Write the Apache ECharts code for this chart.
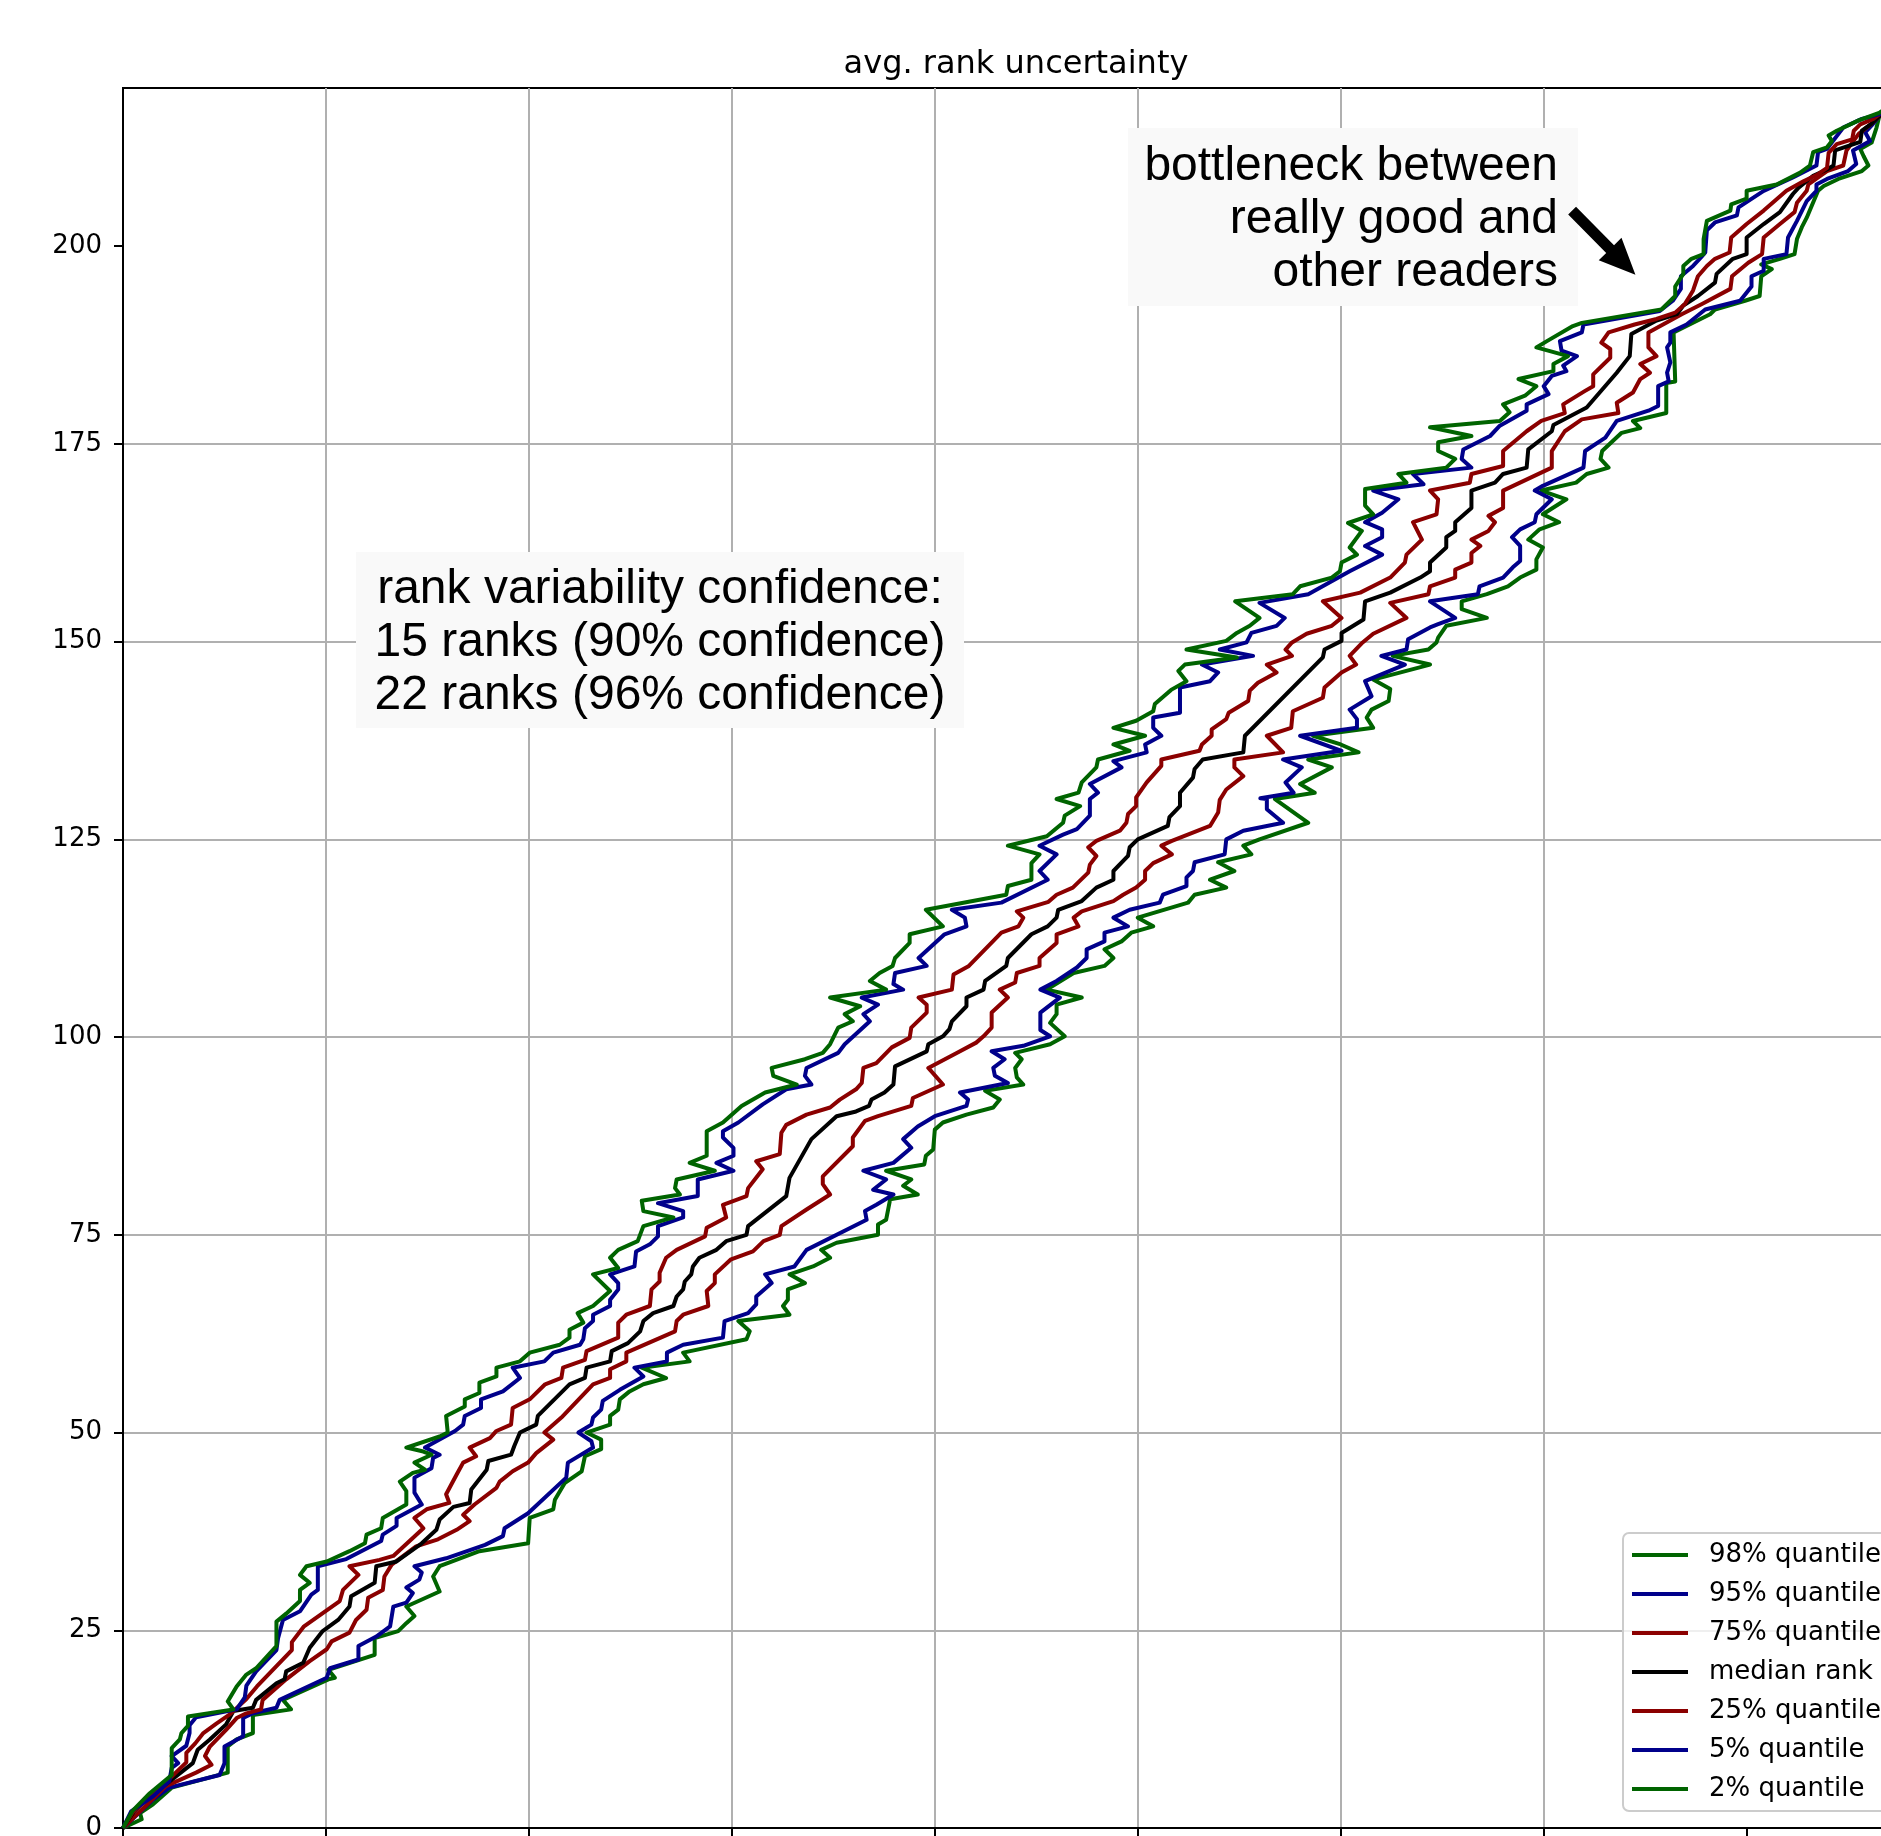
<!DOCTYPE html>
<html>
<head>
<meta charset="utf-8">
<title>avg. rank uncertainty</title>
<script src="https://cdn.jsdelivr.net/npm/echarts@6/dist/echarts.min.js"></script>
<style>
  html, body { margin: 0; padding: 0; background: #fff; }
  #main { width: 1881px; height: 1836px; }
</style>
</head>
<body>
<div id="main"></div>
<script>
// each point is [quantile of rank, reader index]
var q98 = [[0,0],[2.3,1.1],[2.1,1.9],[3.7,3.0],[6.0,5.1],[12.9,7.0],[12.9,10.3],[14.0,11.2],[16.0,12.0],[16.0,14.3],[20.7,15.0],[19.7,16.2],[25.3,18.8],[26.1,19.0],[25.3,20.0],[31.0,21.9],[31.0,24.0],[33.9,24.9],[34.9,25.9],[35.9,26.8],[34.9,28.0],[39.0,29.9],[38.2,31.8],[39.0,33.1],[43.9,35.0],[49.9,36.0],[50.1,39.2],[53.0,40.3],[53.2,41.5],[54.4,43.6],[56.5,45.1],[56.9,47.0],[58.9,47.9],[58.9,49.1],[57.1,50.0],[60.0,51.0],[60.0,52.1],[61.0,52.9],[61.2,54.2],[62.4,55.2],[64.1,56.1],[66.9,56.9],[63.9,58.2],[69.8,59.0],[69.0,60.1],[76.8,61.8],[77.2,62.8],[75.8,64.1],[82.1,64.9],[81.3,66.0],[81.9,66.8],[81.9,68.1],[84.0,68.9],[82.1,70.0],[85.0,71.0],[87.1,72.1],[86.0,73.1],[87.9,74.0],[93.0,75.0],[93.0,76.3],[94.0,76.9],[94.5,79.5],[97.9,80.1],[96.1,81.2],[97.1,82.0],[94.0,83.1],[98.7,83.9],[98.9,85.0],[99.8,85.8],[100.0,88.3],[101.0,89.2],[103.9,90.2],[107.2,91.1],[108.0,92.1],[106.2,93.2],[110.9,94.0],[110.1,94.9],[109.9,96.1],[110.7,97.2],[109.9,98.0],[114.2,99.1],[116.0,100.1],[114.2,101.8],[115.0,102.9],[115.0,104.1],[118.1,105.0],[113.8,106.0],[117.1,108.1],[120.9,109.0],[122.0,110.0],[120.9,111.1],[123.0,112.1],[124.2,113.2],[126.9,114.0],[125.0,115.1],[131.2,117.0],[132.0,118.0],[135.9,118.9],[133.9,119.9],[136.9,121.0],[134.9,122.1],[139.0,123.1],[138.0,124.2],[140.0,125.0],[146.0,127.1],[141.9,130.1],[146.8,130.9],[145.0,132.0],[148.9,134.1],[146.0,135.1],[152.2,136.0],[150.0,137.0],[146.6,138.1],[154.0,139.1],[153.2,140.4],[153.8,141.4],[155.9,142.5],[156.1,144.0],[154.0,145.2],[161.0,147.1],[156.4,148.2],[160.8,149.0],[161.8,149.9],[162.0,150.5],[163.0,152.0],[168.0,153.0],[164.9,154.1],[164.9,155.1],[168.0,156.0],[170.6,157.0],[172.1,158.1],[174.1,159.1],[174.1,160.4],[174.9,161.9],[173.1,162.9],[174.5,164.2],[176.9,165.1],[174.9,166.1],[177.8,168.0],[174.7,169.1],[179.0,170.1],[180.3,171.2],[183.0,172.0],[182.0,173.1],[182.2,174.1],[184.6,176.4],[186.9,177.0],[186.0,177.9],[190.1,178.9],[190.1,182.7],[191.2,182.9],[191.0,189.1],[191.8,189.5],[195.5,191.4],[196.1,192.0],[199.8,193.1],[201.6,193.7],[201.8,196.2],[203.1,197.1],[201.8,197.7],[204.1,198.4],[205.9,199.0],[206.2,200.9],[206.8,202.4],[207.4,203.6],[208.8,207.0],[209.5,207.6],[211.3,208.5],[214.2,209.5],[215.0,210.2],[214.4,211.4],[214.0,212.3],[215.4,213.1],[216.0,215.0],[216.4,216.7],[218,218]];

var q95 = [[0,0],[3.7,3.6],[5.7,5.1],[11.9,6.7],[12.5,8.2],[12.5,10.3],[14.8,11.6],[14.8,13.9],[16.0,14.5],[18.9,15.2],[19.3,16.2],[25.1,19.0],[25.5,20.2],[29.0,21.3],[29.0,23.0],[31.2,24.2],[32.9,25.5],[33.3,28.0],[34.9,28.5],[35.7,29.7],[34.9,30.4],[36.5,31.4],[36.8,32.3],[35.9,33.1],[39.8,34.1],[44.6,35.8],[46.8,36.9],[47.0,37.9],[49.9,39.8],[54.6,44.3],[54.8,46.2],[57.9,48.1],[57.7,48.9],[56.1,50.0],[57.7,51.0],[57.9,51.9],[58.9,52.9],[59.1,54.0],[61.2,55.4],[64.1,57.1],[63.0,58.2],[67.0,59.0],[67.0,60.1],[69.0,61.1],[73.9,62.0],[74.1,64.1],[77.0,65.1],[78.0,66.2],[78.0,67.2],[79.9,68.9],[79.1,70.0],[82.7,71.0],[84.2,73.1],[91.6,76.9],[91.4,78.0],[92.8,78.8],[94.9,80.1],[92.4,80.7],[94.0,82.0],[91.2,83.1],[94.9,84.1],[97.1,86.0],[96.1,87.1],[97.9,88.7],[100.0,90.0],[103.9,91.3],[104.1,92.1],[103.1,93.0],[109.0,94.2],[107.4,95.1],[107.2,96.1],[108.6,97.2],[107.0,98.2],[110.9,98.9],[114.2,100.1],[113.0,100.9],[113.0,103.1],[115.4,105.0],[113.0,106.0],[115.0,107.1],[117.5,108.8],[118.7,110.0],[118.7,111.1],[120.9,112.1],[120.9,113.2],[123.8,114.0],[122.0,115.1],[124.0,116.1],[127.7,117.0],[128.1,118.0],[131.0,119.1],[131.0,120.2],[131.8,121.0],[132.0,122.1],[135.7,123.1],[135.9,125.0],[138.0,126.1],[142.9,127.1],[140.9,128.8],[140.9,130.1],[140.1,130.2],[144.2,130.9],[143.2,132.2],[145.2,134.1],[142.9,135.1],[150.1,136.2],[145.0,138.1],[152.0,139.1],[152.0,140.2],[151.1,141.4],[153.8,143.1],[153.0,145.0],[157.9,147.1],[155.0,148.2],[158.1,149.0],[158.3,150.3],[161.0,151.8],[162.0,152.2],[164.1,153.0],[161.0,155.1],[166.9,156.0],[167.1,157.0],[170.0,158.1],[171.2,159.4],[172.1,160.2],[172.1,162.1],[171.1,163.2],[172.1,164.2],[173.9,165.1],[174.1,166.1],[176.0,168.0],[173.9,169.1],[174.9,169.7],[179.9,172.0],[180.1,174.1],[182.6,175.8],[184.0,177.9],[187.9,179.2],[189.1,179.8],[189.1,182.3],[190.4,182.9],[190.2,184.0],[190.6,185.3],[190.2,187.2],[190.6,187.8],[190.6,189.1],[192.6,190.1],[194.9,192.0],[199.2,193.1],[200.6,194.9],[200.6,196.2],[202.1,196.9],[202.1,198.4],[204.9,199.0],[205.1,201.1],[206.2,203.2],[207.4,205.7],[208.6,207.0],[208.6,207.8],[209.9,208.5],[212.5,209.5],[213.5,210.4],[213.1,212.1],[215.2,213.3],[214.6,214.4],[215.6,215.5],[216.4,216.5],[218,218]];

var q75 = [[0,0],[1.5,1.5],[5.3,5.3],[9.0,7.0],[10.9,8.0],[10.1,9.1],[10.7,10.3],[12.7,12.4],[14.0,13.9],[15.2,14.5],[17.0,15.0],[17.2,16.2],[20.1,18.8],[23.0,21.1],[25.1,22.6],[25.7,23.6],[27.9,24.7],[28.7,26.3],[30.0,27.6],[30.2,29.1],[32.0,30.1],[32.2,31.8],[33.1,33.3],[36.1,35.6],[38.8,36.5],[41.1,37.7],[42.7,38.8],[41.9,39.6],[43.3,40.9],[46.0,43.0],[46.4,43.8],[48.0,45.1],[49.9,46.2],[50.9,47.4],[53.0,49.1],[51.9,50.0],[54.0,51.9],[57.9,56.1],[60.0,56.9],[60.0,58.0],[62.0,59.0],[62.0,60.1],[68.0,62.8],[68.2,64.1],[69.0,64.9],[72.1,66.0],[71.9,67.9],[72.9,68.9],[72.9,70.0],[74.9,71.9],[77.6,72.9],[78.9,74.2],[80.9,75.0],[81.1,76.1],[84.2,78.2],[87.1,80.1],[86.2,81.4],[86.2,82.4],[89.9,86.2],[89.9,87.3],[91.4,89.4],[93.0,90.0],[97.1,91.3],[97.3,92.3],[101.0,94.0],[99.2,96.1],[102.7,98.0],[105.1,99.3],[106.0,100.1],[107.0,101.2],[107.0,103.1],[109.0,105.0],[108.0,106.0],[109.9,106.9],[110.1,108.1],[112.9,109.0],[112.9,110.0],[115.0,111.9],[115.0,113.0],[117.7,114.0],[117.1,115.1],[118.1,115.9],[122.0,117.2],[123.2,118.0],[124.8,118.9],[125.9,119.9],[125.9,121.0],[126.9,122.0],[129.2,123.1],[127.9,124.2],[129.2,124.8],[133.9,126.7],[134.9,128.4],[135.1,130.0],[135.9,131.3],[138.0,133.0],[136.9,134.1],[136.9,135.1],[142.9,136.0],[140.9,138.1],[143.9,139.1],[144.1,141.2],[147.8,142.9],[148.0,144.2],[150.1,146.1],[151.9,147.1],[151.1,148.2],[152.7,149.9],[154.0,151.0],[158.1,153.0],[156.1,154.9],[160.8,156.0],[161.0,157.0],[164.1,158.1],[164.1,159.1],[166.1,160.0],[166.1,161.2],[167.2,162.1],[166.1,162.9],[168.2,164.0],[169.0,165.1],[168.2,165.9],[170.0,166.9],[170.0,169.1],[176.0,172.0],[176.0,174.1],[177.6,176.6],[179.7,178.1],[184.2,178.9],[184.0,180.2],[186.0,181.5],[186.9,183.2],[188.1,184.0],[186.9,185.1],[188.9,186.1],[187.9,187.2],[187.9,189.1],[190.6,190.6],[192.0,191.4],[194.5,192.7],[198.0,194.6],[198.2,196.2],[200.2,197.9],[201.9,199.0],[202.1,201.1],[204.1,202.8],[205.9,204.3],[206.2,205.5],[207.4,207.0],[207.6,207.8],[209.9,209.5],[211.9,210.2],[212.3,212.1],[213.8,214.2],[215.4,215.5],[216.4,216.5],[218,218]];

var qMedian = [[0,0],[1.3,2.0],[3.2,4.0],[5.5,5.7],[8.6,8.2],[9.2,9.9],[10.7,11.2],[12.7,13.1],[13.6,14.8],[16.0,15.2],[16.4,16.2],[18.9,18.3],[19.9,18.8],[20.1,19.8],[22.2,20.9],[23.0,22.8],[24.6,24.9],[26.5,26.3],[27.9,28.0],[28.1,29.3],[31.0,31.0],[31.2,33.1],[33.7,33.7],[36.8,36.0],[38.6,37.7],[39.0,39.0],[40.7,40.6],[42.7,41.1],[42.9,42.8],[44.8,45.3],[45.0,46.4],[47.8,47.2],[48.2,48.3],[48.9,50.0],[50.9,51.0],[51.1,52.1],[55.0,56.1],[56.9,56.9],[57.1,58.2],[60.0,59.0],[60.2,60.3],[62.2,61.3],[63.7,62.8],[64.1,64.1],[65.3,65.1],[67.8,66.0],[68.2,67.2],[69.0,68.1],[69.2,69.1],[70.0,70.0],[70.2,71.0],[71.0,72.1],[73.1,73.1],[74.3,74.2],[76.8,75.0],[77.0,76.1],[81.7,79.9],[82.1,82.2],[84.8,87.1],[87.9,90.0],[90.3,90.6],[91.9,91.3],[92.2,92.1],[93.8,93.0],[94.9,94.0],[95.1,96.3],[99.0,98.2],[99.2,99.1],[101.0,100.1],[101.8,101.0],[102.1,102.0],[103.9,103.9],[103.9,105.0],[106.0,106.0],[106.2,107.1],[108.8,109.0],[109.0,110.0],[111.9,113.0],[113.9,114.0],[115.0,115.1],[115.2,116.1],[118.1,117.2],[119.9,118.9],[122.0,119.9],[122.0,121.0],[123.8,122.9],[124.0,124.0],[125.0,125.0],[128.7,126.7],[128.9,127.8],[130.2,129.2],[130.2,130.9],[131.8,132.8],[132.0,133.9],[133.0,135.1],[138.0,136.0],[138.2,138.1],[147.8,148.0],[148.0,149.0],[150.1,150.1],[150.1,151.1],[152.8,152.8],[153.0,155.1],[156.1,156.2],[159.8,158.1],[161.0,158.9],[161.0,160.0],[163.0,161.9],[163.0,163.2],[164.1,164.0],[164.1,165.1],[166.1,166.9],[166.1,169.1],[169.0,170.1],[170.0,171.2],[172.9,172.0],[173.1,174.3],[176.0,176.6],[176.2,177.4],[180.3,179.6],[184.0,184.0],[185.6,186.1],[185.8,188.9],[188.9,190.6],[191.4,191.4],[192.2,192.5],[194.0,193.7],[196.1,195.4],[196.3,196.5],[198.3,198.4],[200.0,199.0],[200.0,201.1],[202.1,202.8],[204.1,204.3],[205.7,206.6],[206.4,207.4],[208.2,208.9],[209.9,209.7],[210.7,210.2],[210.9,212.1],[214.0,213.2],[214.2,214.6],[215.4,215.5],[216.4,216.5],[218,218]];

var q25 = [[0,0],[1.2,2.0],[3.5,4.2],[5.8,6.3],[7.8,8.3],[7.8,9.5],[8.9,10.7],[9.9,12.0],[11.5,13.2],[13.2,14.4],[15.2,16.3],[16.5,17.9],[20.8,22.5],[20.8,23.5],[22.3,25.5],[26.7,28.7],[27.1,30.1],[29.0,32.0],[27.9,33.1],[31.6,33.9],[33.3,34.4],[37.0,37.9],[35.9,39.2],[37.4,40.3],[40.2,41.1],[39.8,42.2],[41.1,44.7],[41.9,46.2],[43.5,47.0],[42.7,48.1],[45.2,49.3],[46.0,50.2],[47.8,51.0],[48.0,53.1],[50.1,54.2],[52.0,56.1],[54.0,56.9],[54.2,58.2],[56.9,59.2],[57.1,60.3],[61.0,62.0],[61.0,63.9],[62.0,64.9],[64.9,66.0],[65.1,68.1],[66.1,69.1],[66.1,70.2],[66.9,72.1],[68.2,73.1],[71.7,74.8],[71.9,75.9],[74.3,77.2],[73.9,78.8],[76.8,79.9],[77.0,80.9],[78.8,83.3],[78.0,84.3],[80.9,85.2],[81.1,87.9],[81.7,88.9],[84.2,90.2],[87.1,91.1],[88.3,92.1],[90.3,93.4],[91.0,94.2],[91.2,96.1],[92.8,96.7],[94.7,98.7],[96.9,99.9],[97.1,101.2],[99.0,103.1],[99.0,104.1],[98.0,105.0],[102.1,106.0],[102.3,107.9],[104.2,109.0],[108.2,113.2],[110.3,114.0],[110.9,115.1],[110.1,115.9],[114.0,117.1],[115.0,118.0],[117.0,118.9],[118.9,120.8],[119.1,121.8],[119.9,122.9],[118.9,124.0],[119.9,124.8],[122.8,126.1],[123.6,127.1],[123.8,128.2],[124.8,129.2],[124.8,130.3],[126.1,132.2],[127.9,134.3],[127.9,135.1],[132.6,136.2],[132.9,137.0],[134.1,138.1],[134.1,138.9],[135.9,140.2],[136.2,141.0],[138.6,142.5],[138.8,143.8],[139.8,144.8],[142.1,146.1],[140.9,147.1],[144.0,148.2],[143.2,149.0],[144.0,149.9],[145.8,151.0],[148.9,152.0],[150.1,153.0],[147.8,155.1],[152.4,156.2],[156.1,158.1],[157.9,160.0],[158.1,161.0],[160.0,162.9],[158.9,165.1],[161.8,166.1],[162.0,168.0],[161.0,169.1],[165.9,170.1],[166.1,171.2],[170.0,172.2],[170.0,174.1],[172.9,176.6],[174.7,177.9],[177.6,178.9],[177.4,180.0],[180.1,181.7],[181.1,182.3],[181.1,183.8],[183.2,185.9],[183.2,187.0],[182.1,187.8],[183.0,189.1],[186.2,190.1],[188.9,190.8],[191.2,191.6],[192.4,192.7],[193.0,193.7],[193.4,194.4],[194.0,196.2],[195.1,197.5],[196.1,198.4],[197.9,199.2],[198.1,201.1],[200.0,202.8],[202.1,204.5],[204.9,207.0],[207.0,208.2],[208.8,209.1],[209.9,209.9],[210.1,211.8],[211.1,212.9],[213.0,213.5],[213.2,214.6],[214.0,215.4],[215.6,216.1],[216.4,216.7],[218,218]];

var q05 = [[0,0],[1.0,2.1],[3.7,4.0],[5.7,5.9],[6.0,7.6],[6.8,8.2],[6.0,9.1],[7.8,10.4],[8.2,12.0],[8.2,13.0],[9.0,14.0],[14.0,15.0],[15.0,16.5],[15.2,18.0],[16.4,19.8],[18.9,22.5],[19.1,24.0],[19.7,26.3],[21.8,27.4],[23.2,29.5],[24.0,30.1],[24.0,33.1],[27.5,34.0],[31.8,36.3],[32.0,37.1],[33.7,38.2],[33.7,39.2],[36.8,40.9],[35.9,42.4],[35.9,44.3],[38.0,45.5],[38.2,46.8],[39.0,47.2],[37.2,48.1],[40.9,50.2],[41.9,51.0],[42.1,52.1],[44.1,53.1],[44.1,54.2],[46.8,55.2],[48.9,56.9],[48.0,58.2],[51.9,59.0],[53.0,60.1],[56.3,61.1],[56.7,61.8],[56.9,63.2],[57.9,64.1],[57.9,64.9],[60.0,66.0],[60.0,66.8],[61.0,68.1],[61.0,68.9],[60.0,70.0],[63.0,71.0],[63.2,72.9],[64.9,73.8],[65.9,74.8],[65.9,76.1],[69.0,77.2],[69.0,78.0],[65.9,79.0],[70.8,79.9],[70.8,82.0],[75.2,83.1],[73.1,84.1],[75.2,85.0],[75.2,86.0],[73.9,87.3],[73.9,88.1],[75.8,89.2],[78.8,91.5],[81.7,93.4],[84.8,94.0],[84.0,95.1],[84.2,96.1],[88.1,98.0],[88.9,99.1],[92.0,102.0],[91.2,102.9],[93.0,104.1],[91.0,105.0],[96.1,106.0],[94.9,106.7],[95.1,108.1],[99.0,109.0],[98.0,110.0],[101.2,113.0],[103.9,114.0],[103.7,115.1],[102.1,116.1],[108.2,117.0],[113.9,119.9],[112.9,121.0],[115.0,123.1],[112.9,124.2],[115.8,125.6],[117.5,126.3],[119.1,128.0],[119.1,130.1],[120.1,130.9],[119.1,132.0],[123.0,134.1],[122.0,134.9],[126.1,136.0],[125.9,137.0],[127.9,138.1],[126.9,139.1],[126.9,140.4],[130.2,141.0],[130.2,144.2],[133.9,145.0],[134.9,146.1],[132.9,147.1],[139.2,148.2],[135.1,149.0],[138.4,149.9],[139.0,151.1],[142.1,152.0],[143.1,153.0],[140.0,154.9],[146.0,156.0],[151.1,158.9],[155.1,161.0],[153.0,162.1],[155.1,163.2],[155.1,164.2],[153.0,165.1],[155.1,166.3],[157.1,168.0],[154.0,169.1],[160.2,169.9],[158.9,171.2],[166.1,172.0],[164.9,173.1],[165.1,174.3],[168.4,176.0],[169.6,177.3],[172.9,179.2],[172.9,180.0],[175.6,181.3],[175.0,182.3],[176.0,183.6],[177.8,184.2],[177.4,184.9],[179.1,186.1],[177.2,186.8],[177.0,188.0],[179.7,189.1],[179.9,190.1],[189.3,191.8],[190.9,193.1],[191.9,194.6],[191.9,196.2],[193.4,197.5],[194.4,198.6],[194.9,199.2],[195.1,202.0],[196.1,203.0],[198.8,203.9],[199.0,204.9],[202.1,207.0],[205.7,208.7],[208.6,210.2],[208.8,211.9],[209.9,212.3],[211.9,215.0],[214.2,216.1],[216.4,216.7],[218,218]];

var q02 = [[0,0],[1.2,2.2],[3.3,4.4],[6.0,6.7],[6.0,10.1],[7.0,11.2],[7.2,12.0],[8.0,12.9],[8.0,14.1],[13.6,15.0],[12.9,16.0],[14.0,17.9],[15.2,19.4],[16.4,20.2],[18.9,23.0],[18.9,26.1],[20.1,27.1],[21.8,28.7],[21.8,30.1],[23.0,31.0],[21.8,32.0],[22.6,33.1],[25.1,33.7],[27.9,35.0],[29.8,36.0],[30.0,37.1],[31.8,37.9],[32.0,39.2],[34.9,40.9],[34.9,42.6],[34.1,43.8],[35.7,44.9],[37.2,45.3],[35.9,46.2],[38.0,47.2],[37.0,47.6],[34.9,48.1],[39.0,49.5],[40.0,50.0],[39.8,52.1],[42.1,53.3],[42.1,54.2],[43.9,55.0],[43.9,56.3],[46.0,57.1],[46.0,58.2],[48.9,59.0],[50.1,60.1],[53.8,61.1],[55.0,62.0],[55.0,63.0],[56.7,63.9],[56.0,65.1],[57.9,66.0],[60.0,67.9],[57.9,70.0],[61.0,70.8],[60.0,72.1],[61.0,73.1],[63.4,74.2],[64.1,76.1],[67.8,77.2],[64.1,78.0],[63.9,79.3],[68.6,80.1],[68.0,80.9],[68.2,82.0],[72.9,83.1],[69.8,84.1],[71.9,85.0],[71.9,88.1],[73.9,89.2],[76.2,91.3],[79.1,93.0],[83.0,94.0],[80.1,95.1],[79.9,96.1],[84.0,97.2],[86.2,98.0],[87.1,99.1],[88.1,101.2],[89.9,102.0],[88.9,102.9],[90.8,103.9],[87.1,105.0],[94.0,106.0],[92.0,107.1],[93.2,108.1],[94.8,109.0],[95.1,110.0],[96.9,111.9],[96.9,113.0],[101.0,114.0],[98.9,116.1],[108.8,118.0],[109.0,119.1],[111.9,119.9],[111.9,122.0],[112.9,123.1],[109.0,124.2],[113.8,125.4],[115.8,127.1],[116.0,128.0],[117.9,129.2],[115.0,130.1],[117.7,130.9],[118.1,132.2],[119.9,134.1],[120.1,135.1],[124.0,136.2],[122.0,137.0],[125.9,138.1],[122.0,139.1],[124.8,140.0],[126.9,141.2],[127.1,142.1],[129.1,143.9],[131.0,145.0],[130.0,146.3],[130.8,147.1],[137.2,148.0],[131.0,149.0],[135.9,150.1],[137.2,151.1],[138.8,152.0],[140.0,153.0],[137.0,155.1],[144.1,156.0],[145.0,157.0],[148.9,158.1],[149.9,158.9],[150.1,160.0],[152.0,161.0],[151.1,161.9],[152.6,164.0],[150.9,165.0],[154.0,166.1],[153.0,167.2],[153.0,169.3],[158.1,170.1],[157.1,171.2],[163.0,172.0],[164.1,173.1],[162.0,174.1],[162.0,175.2],[166.1,176.0],[161.0,177.1],[169.6,177.9],[170.8,179.0],[170.0,180.0],[172.7,181.1],[174.1,182.3],[171.9,183.2],[176.2,184.2],[176.2,185.1],[178.0,186.1],[174.1,187.2],[175.4,188.0],[178.6,189.9],[179.7,190.3],[189.5,192.0],[191.2,193.7],[191.2,194.9],[192.2,196.5],[192.2,197.5],[193.2,198.4],[194.7,199.0],[194.7,200.9],[195.1,203.2],[198.0,204.5],[198.1,205.3],[200.0,206.0],[200.0,207.0],[203.7,207.8],[206.6,209.3],[207.8,210.2],[208.2,211.9],[209.9,212.5],[210.5,213.3],[210.1,214.0],[211.1,214.6],[213.8,215.9],[216.4,216.9],[218,218]];

var seriesNames = ['98% quantile', '95% quantile', '75% quantile', 'median rank', '25% quantile', '5% quantile', '2% quantile'];
var seriesColors = ['#006400', '#00008b', '#8b0000', '#000000', '#8b0000', '#00008b', '#006400'];
var seriesData = [q98, q95, q75, qMedian, q25, q05, q02];

var yTicks = [0, 25, 50, 75, 100, 125, 150, 175, 200];
var xTicks = [0, 25, 50, 75, 100, 125, 150, 175, 200];

// annotation texts and the data point the arrow points at
var noteConfidence = 'rank variability confidence:\n15 ranks (90% confidence)\n22 ranks (96% confidence)';
var noteBottleneck = 'bottleneck between\nreally good and\nother readers';
var arrowTail = [178.5, 204.5];
var arrowTip = [186.3, 196.4];

var chart = echarts.init(document.getElementById('main'));

var series = seriesNames.map(function (name, i) {
  return {
    name: name,
    type: 'line',
    data: seriesData[i],
    symbol: 'none',
    showSymbol: false,
    lineStyle: { color: seriesColors[i], width: 4, join: 'round' },
    itemStyle: { color: seriesColors[i] },
    emphasis: { disabled: true },
    z: 2 + i
  };
});

var option = {
  animation: false,
  backgroundColor: '#ffffff',
  title: {
    text: 'avg. rank uncertainty',
    left: 1016,
    top: 49,
    padding: 0,
    textAlign: 'center',
    textStyle: { fontFamily: 'DejaVu Sans', fontSize: 32, fontWeight: 'normal', color: '#000' }
  },
  grid: {
    left: 123,
    right: -28,
    top: 88,
    bottom: 8,
    show: true,
    borderColor: '#000',
    borderWidth: 2,
    backgroundColor: 'transparent',
    outerBoundsMode: 'none',
    containLabel: false
  },
  legend: {
    orient: 'vertical',
    left: 1623,
    top: 1533,
    data: seriesNames,
    icon: 'rect',
    itemWidth: 56,
    itemHeight: 4,
    itemGap: 7,
    padding: [6, 12, 6, 9],
    backgroundColor: 'rgba(255,255,255,0.8)',
    borderColor: '#cccccc',
    borderWidth: 2,
    borderRadius: 6,
    selectedMode: false,
    textStyle: { fontFamily: 'DejaVu Sans', fontSize: 26, color: '#000', lineHeight: 32, padding: [0, 0, 0, 16] }
  },
  xAxis: {
    type: 'value',
    min: 0,
    max: 220,
    interval: 25,
    axisLine: { show: true, onZero: false, lineStyle: { color: '#000', width: 2 } },
    axisTick: { show: true, length: 9, lineStyle: { color: '#000', width: 2 }, customValues: xTicks },
    axisLabel: { show: false },
    splitLine: { show: true, showMinLine: false, showMaxLine: false, lineStyle: { color: '#b0b0b0', width: 2 } }
  },
  yAxis: {
    type: 'value',
    min: 0,
    max: 220,
    interval: 25,
    axisLine: { show: true, onZero: false, lineStyle: { color: '#000', width: 2 } },
    axisTick: { show: true, length: 9, lineStyle: { color: '#000', width: 2 }, customValues: yTicks },
    axisLabel: {
      customValues: yTicks,
      margin: 21,
      fontFamily: 'DejaVu Sans',
      fontSize: 26,
      color: '#000'
    },
    splitLine: { show: true, showMinLine: false, showMaxLine: false, lineStyle: { color: '#b0b0b0', width: 2 } }
  },
  series: series
};

chart.setOption(option);

// arrow drawn from the data anchors
var p0 = chart.convertToPixel({ gridIndex: 0 }, arrowTail);
var p1 = chart.convertToPixel({ gridIndex: 0 }, arrowTip);
var dx = p1[0] - p0[0], dy = p1[1] - p0[1];
var len = Math.sqrt(dx * dx + dy * dy);
var ux = dx / len, uy = dy / len;
var nx = -uy, ny = ux;
var headLen = 36, headHalf = 16, shaftHalf = 5.5;
var bx = p1[0] - ux * headLen, by = p1[1] - uy * headLen;
var arrowPoints = [
  [p0[0] + nx * shaftHalf, p0[1] + ny * shaftHalf],
  [bx + nx * shaftHalf, by + ny * shaftHalf],
  [bx + nx * headHalf, by + ny * headHalf],
  [p1[0], p1[1]],
  [bx - nx * headHalf, by - ny * headHalf],
  [bx - nx * shaftHalf, by - ny * shaftHalf],
  [p0[0] - nx * shaftHalf, p0[1] - ny * shaftHalf]
];

var noteFont = '48px "Liberation Sans", Arial, sans-serif';

chart.setOption({
  graphic: [
    {
      type: 'rect',
      shape: { x: 356, y: 552, width: 608, height: 176 },
      style: { fill: '#f9f9f9' },
      z: 50
    },
    {
      type: 'text',
      x: 660,
      y: 643,
      style: { text: noteConfidence, font: noteFont, fill: '#000', align: 'center', verticalAlign: 'middle', lineHeight: 53 },
      z: 51
    },
    {
      type: 'rect',
      shape: { x: 1128, y: 128, width: 450, height: 178 },
      style: { fill: '#f9f9f9' },
      z: 50
    },
    {
      type: 'text',
      x: 1558,
      y: 220,
      style: { text: noteBottleneck, font: noteFont, fill: '#000', align: 'right', verticalAlign: 'middle', lineHeight: 53 },
      z: 51
    },
    {
      type: 'polygon',
      shape: { points: arrowPoints },
      style: { fill: '#000' },
      z: 52
    }
  ]
});
</script>
</body>
</html>
